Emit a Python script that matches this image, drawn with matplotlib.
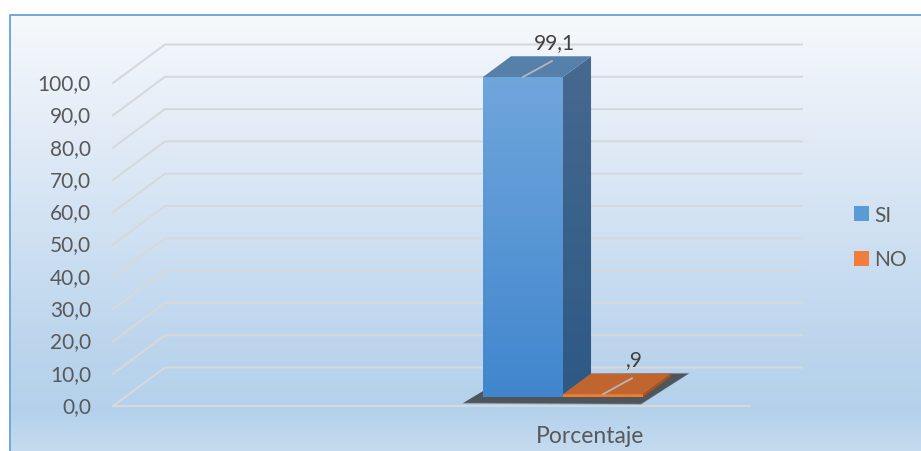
import numpy as np
import matplotlib.pyplot as plt
import matplotlib.transforms as mtransforms
from matplotlib.patches import Polygon, Patch
from matplotlib.colors import LinearSegmentedColormap

plt.rcParams['font.family'] = ['Lato', 'DejaVu Sans']

# data
categories = ["SI", "NO"]
values = [99.1, 0.9]
y_ticks = [0, 10, 20, 30, 40, 50, 60, 70, 80, 90, 100]
x_label = "Porcentaje"


def fmt(v):
    s = f"{v:.1f}".replace(".", ",")
    return s[1:] if s.startswith("0,") and v != 0 else s


W, H = 921, 452
fig = plt.figure(figsize=(W / 100, H / 100), dpi=100)

# background panel with gradient + border (pixel coords)
bg = fig.add_axes([0, 0, 1, 1])
bg.set_xlim(0, W)
bg.set_ylim(H, 0)
bg.axis("off")
cmap = LinearSegmentedColormap.from_list(
    "bg", [(0, "#f6f9fc"), (0.2, "#e8eff8"), (0.45, "#d3e3f3"),
           (0.75, "#bcd5ed"), (0.9, "#b4d1eb"), (1.0, "#c6dcf0")])
grad = np.linspace(0, 1, 256).reshape(-1, 1)
bg.imshow(grad, cmap=cmap, extent=[10, W + 5, H + 5, 16], aspect="auto")
bg.plot([10, 10, W + 5], [H + 5, 16, 16], color="#6fa8dc", lw=1.4)
bg.set_xlim(0, W)
bg.set_ylim(H, 0)

# front plane of the 3d plot
ax = fig.add_axes([113 / W, (H - 407) / H, 637 / W, 323 / H])
ax.set_xlim(0, 1)
ax.set_ylim(0, 100)
ax.set_autoscale_on(False)
ax.axis("off")
ax.patch.set_alpha(0)

DX, DY = 52, 38.5   # depth offset in pixels
ID = mtransforms.IdentityTransform()


def P(x, v, d=0.0):
    px, py = ax.transData.transform((x, v))
    return np.array([px + d * DX, py + d * DY])


def poly(pts, color, alpha=1.0, z=3):
    p = Polygon(pts, closed=True, facecolor=color, edgecolor="none",
                alpha=alpha, transform=ID, clip_on=False, zorder=z)
    ax.add_patch(p)
    return p


def face(pts, c_bot, c_top, z=3):
    pts = np.array(pts)
    clip = Polygon(pts, closed=True, transform=ID, facecolor="none",
                   edgecolor="none", clip_on=False)
    ax.add_patch(clip)
    cm = LinearSegmentedColormap.from_list("f", [c_bot, c_top])
    g = np.linspace(1, 0, 128).reshape(-1, 1)
    im = ax.imshow(g, cmap=cm, vmin=0, vmax=1, aspect="auto",
                   extent=[pts[:, 0].min(), pts[:, 0].max(),
                           pts[:, 1].min(), pts[:, 1].max()],
                   origin="upper", transform=ID, zorder=z,
                   interpolation="bilinear")
    im.set_clip_box(fig.bbox)
    im.set_clip_path(clip)


grid_c = "#d6d9dc"
for v in y_ticks:
    a, b = P(0, v, 0), P(0, v, 1)
    c = P(1, v, 1)
    ax.plot([a[0], b[0], c[0]], [a[1], b[1], c[1]], color=grid_c, lw=1.5,
            transform=ID, clip_on=False, zorder=1)
    ax.text(a[0] - 22, a[1], fmt(v), transform=ID, ha="right", va="center",
            fontsize=15, color="#595959")
f0, f1 = P(0, 0, 0), P(1, 0, 0)
ax.plot([f0[0], f1[0]], [f0[1], f1[1]], color=grid_c, lw=1.5,
        transform=ID, clip_on=False, zorder=1)

# bars
x0, bw = 0.562, 0.1256
d0, d1 = 0.23, 0.77
styles = [
    dict(front=("#4186cd", "#6fa6dc"), side=("#2d5985", "#46698f"), top="#5580aa"),
    dict(front=("#ed7d31", "#ed7d31"), side=("#a8521f", "#a8521f"), top="#c0652f"),
]

# shadow under the bars
xs, xe = x0, x0 + bw * len(values)
fl, fr = P(xs, 0, d0), P(xe, 0, d0)
br_, bl_ = P(xe, 0, d1), P(xs, 0, d1)
for k, al in zip([1.6, 1.0, 0.5], [0.25, 0.35, 0.5]):
    sh = [fl + np.array([-18 - 2 * k, -5 - k]), fr + np.array([-2, -6 - k]),
          br_ + np.array([16 + 2 * k, 2 + k]), bl_ + np.array([0, 2])]
    poly(sh, "#2e2e2e", alpha=al, z=2)

for i, (v, st) in enumerate(zip(values, styles)):
    xl, xr = x0 + i * bw, x0 + (i + 1) * bw
    # side face
    face([P(xr, 0, d0), P(xr, 0, d1), P(xr, v, d1), P(xr, v, d0)],
         st["side"][0], st["side"][1], z=3)
    # front face
    face([P(xl, 0, d0), P(xr, 0, d0), P(xr, v, d0), P(xl, v, d0)],
         st["front"][0], st["front"][1], z=4)
    # top face
    poly([P(xl, v, d0), P(xr, v, d0), P(xr, v, d1), P(xl, v, d1)], st["top"], z=5)
    # value label with leader line
    s = P((xl + xr) / 2, v, d0)
    e = s + np.array([29, 16])
    ax.plot([s[0], e[0]], [s[1], e[1]], color="#b7b7b7", lw=1.3,
            transform=ID, clip_on=False, zorder=6)
    ax.text(s[0] + 31, s[1] + 35, fmt(v), transform=ID, ha="center",
            va="center", fontsize=15, color="#404040", zorder=7)

# category label
ax.text(590, H - 437, x_label, transform=ID, ha="center", va="center",
        fontsize=16.5, color="#595959")

handles = [Patch(facecolor="#5b9bd5", edgecolor="none"),
           Patch(facecolor="#f07d3a", edgecolor="none")]
fig.legend(handles, categories, loc="center left",
           bbox_to_anchor=(844 / W, 1 - 238 / H), frameon=False,
           fontsize=15, handlelength=0.7, handleheight=0.7,
           handletextpad=0.25, labelspacing=1.2, borderpad=0,
           labelcolor="#595959")

fig.savefig("out.png", dpi=100)
